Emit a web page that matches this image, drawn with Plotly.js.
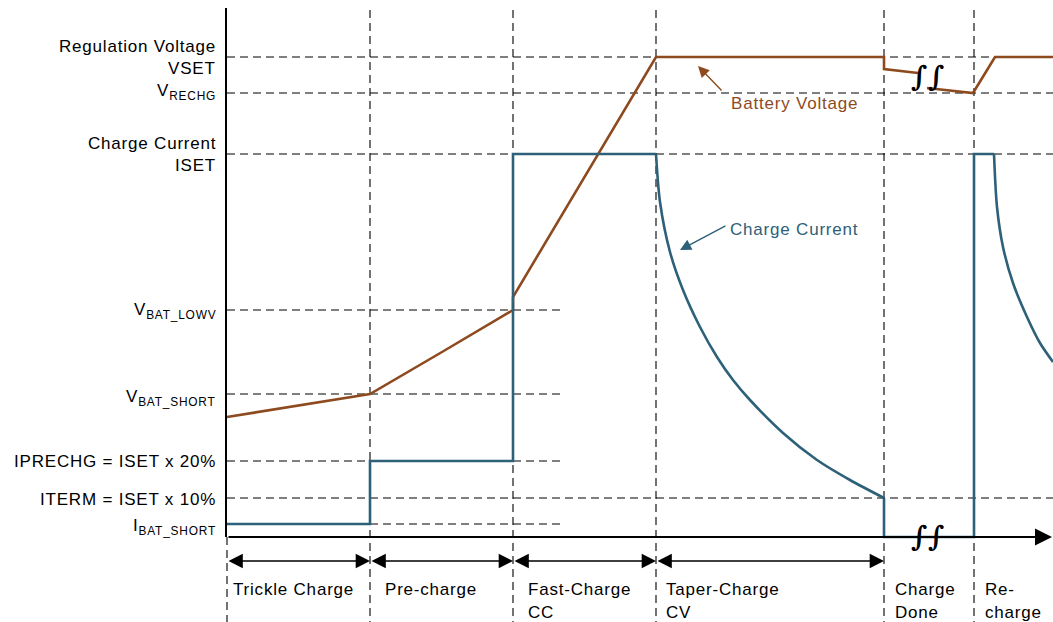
<!DOCTYPE html>
<html>
<head>
<meta charset="utf-8">
<script src="https://cdn.plot.ly/plotly-3.0.1.min.js"></script>
<style>
html,body{margin:0;padding:0;background:#fff;}
#chart{width:1053px;height:622px;}
svg text{letter-spacing:0.8px;}
</style>
</head>
<body>
<div id="chart"></div>
<script>
// ---- phase boundaries (time units) ----
const phaseNames = [["Trickle Charge"], ["Pre-charge"], ["Fast-Charge", "CC"], ["Taper-Charge", "CV"], ["Charge", "Done"], ["Re-", "charge"]];
const phaseStart = [0, 143, 286, 429, 657, 747];
const timeEnd = 826;

// ---- reference levels (arbitrary units, 0 = time axis) ----
const levelNames = ["VSET", "VRECHG", "ISET", "VBAT_LOWV", "VBAT_SHORT", "IPRECHG", "ITERM", "IBAT_SHORT"];
const levelValues = [480, 444, 383, 227, 143, 76, 39, 13];
const levelLineEnd = [826, 826, 826, 338, 338, 338, 826, 338];

// ---- battery voltage ----
const voltT = [0, 143, 215, 286, 286, 429, 657, 657, 691, null, 700, 746, 768, 826];
const voltV = [120, 143, 185, 227, 240, 480, 480, 468, 464, null, 449, 444, 480, 480];

// ---- charge current (steps) ----
const currT = [0, 143, 143, 286, 286, 429];
const currI = [13, 13, 76, 76, 383, 383];
// taper (CV) current
const taperT = [429, 433, 443, 456, 473, 490, 506, 523, 556, 590, 623, 657];
const taperI = [383, 335, 285, 247, 210, 180, 157, 137, 104, 77, 57, 39];
// charge done + recharge
const doneT = [657, 657, 747, 747, 767];
const doneI = [39, 0, 0, 383, 383];
const rechT = [767, 770, 776, 786, 800, 813, 826];
const rechI = [383, 330, 290, 254, 220, 194, 175];

const BROWN = '#8e4a1f';
const TEAL = '#2d6079';
const FONT = 'Liberation Sans, Arial, sans-serif';
const FS = 17;

const traces = [
  {x: voltT, y: voltV, mode: 'lines', line: {color: BROWN, width: 2.6}, cliponaxis: false, connectgaps: false},
  {x: currT, y: currI, mode: 'lines', line: {color: TEAL, width: 2.6}, cliponaxis: false},
  {x: taperT, y: taperI, mode: 'lines', line: {color: TEAL, width: 2.6, shape: 'spline', smoothing: 0.8}, cliponaxis: false},
  {x: doneT, y: doneI, mode: 'lines', line: {color: TEAL, width: 2.6}, cliponaxis: false},
  {x: rechT, y: rechI, mode: 'lines', line: {color: TEAL, width: 2.6, shape: 'spline', smoothing: 0.8}, cliponaxis: false}
];

const shapes = [];
const dash = '8px,5px';
// horizontal dashed reference lines
levelValues.forEach((v, i) => {
  shapes.push({type: 'line', xref: 'x', yref: 'y', x0: 0, x1: levelLineEnd[i], y0: v, y1: v,
    line: {color: '#000', width: 1.1, dash: dash}, layer: 'below'});
});
// vertical dashed phase boundaries
phaseStart.forEach((t, i) => {
  shapes.push({type: 'line', xref: 'x', yref: 'y', x0: t, x1: t, y0: i === 0 ? 0 : 527, y1: -85,
    line: {color: '#000', width: 1.1, dash: dash}, layer: 'below'});
});
// vertical axis
shapes.push({type: 'line', xref: 'x', yref: 'y', x0: -1, x1: -1, y0: 529, y1: 0,
  line: {color: '#000', width: 2}});

const annotations = [];
const lbl = (text, y) => annotations.push({x: -9, y: y, xref: 'x', yref: 'y', text: text, showarrow: false,
  xanchor: 'right', yanchor: 'middle', font: {family: FONT, size: FS, color: '#000'}});
lbl('Regulation Voltage', 491);
lbl('VSET', 469);
lbl('V<sub>RECHG</sub>', 445);
lbl('Charge Current', 394);
lbl('ISET', 372);
lbl('V<sub>BAT_LOWV</sub>', 226);
lbl('V<sub>BAT_SHORT</sub>', 139);
lbl('IPRECHG = ISET x 20%', 76);
lbl('ITERM = ISET x 10%', 38);
lbl('I<sub>BAT_SHORT</sub>', 10);

// time axis with arrow
annotations.push({x: 825, y: 0, ax: 0, ay: 0, xref: 'x', yref: 'y', axref: 'x', ayref: 'y', text: '',
  showarrow: true, arrowhead: 2, arrowsize: 1.7, arrowwidth: 2, arrowcolor: '#000'});

// phase double arrows
for (let i = 0; i < 4; i++) {
  annotations.push({x: phaseStart[i + 1], y: -24, ax: phaseStart[i], ay: -24, xref: 'x', yref: 'y', axref: 'x', ayref: 'y',
    text: '', showarrow: true, arrowhead: 2, startarrowhead: 2, arrowside: 'end+start', arrowsize: 2.2, startarrowsize: 2.2,
    arrowwidth: 1.3, arrowcolor: '#000'});
}
// phase labels
const labelOffsetX = [4, 13, 13, 8, 9, 9];
phaseNames.forEach((lines, i) => {
  lines.forEach((ln, j) => {
    annotations.push({x: phaseStart[i] + labelOffsetX[i], y: -52 - 23 * j, xref: 'x', yref: 'y', text: ln, showarrow: false,
      xanchor: 'left', yanchor: 'middle', font: {family: FONT, size: FS, color: '#000'}});
  });
});

// series callouts
annotations.push({x: 502, y: 434, xref: 'x', yref: 'y', text: 'Battery Voltage', showarrow: false,
  xanchor: 'left', yanchor: 'middle', font: {family: FONT, size: FS, color: BROWN}});
annotations.push({x: 471, y: 471, ax: 496, ay: 445, xref: 'x', yref: 'y', axref: 'x', ayref: 'y', text: '',
  showarrow: true, arrowhead: 2, arrowsize: 1.6, arrowwidth: 1.4, arrowcolor: BROWN});
annotations.push({x: 501, y: 308, xref: 'x', yref: 'y', text: 'Charge Current', showarrow: false,
  xanchor: 'left', yanchor: 'middle', font: {family: FONT, size: FS, color: TEAL}});
annotations.push({x: 453, y: 287, ax: 500, ay: 312, xref: 'x', yref: 'y', axref: 'x', ayref: 'y', text: '',
  showarrow: true, arrowhead: 2, arrowsize: 1.6, arrowwidth: 1.4, arrowcolor: TEAL});

// axis break marks
[[701, 461], [701, 1]].forEach(p => {
  annotations.push({x: p[0], y: p[1], xref: 'x', yref: 'y', text: '<b><i>∫∫</i></b>', showarrow: false,
    xanchor: 'center', yanchor: 'middle', font: {family: 'DejaVu Serif, serif', size: 28, color: '#000'}});
});

const layout = {
  width: 1053, height: 622,
  margin: {l: 0, r: 0, t: 0, b: 0},
  paper_bgcolor: '#fff', plot_bgcolor: '#fff',
  showlegend: false,
  xaxis: {range: [-227, 826], visible: false, fixedrange: true},
  yaxis: {range: [-85, 537], visible: false, fixedrange: true},
  shapes: shapes,
  annotations: annotations
};

Plotly.newPlot('chart', traces, layout, {staticPlot: true});
</script>
</body>
</html>
